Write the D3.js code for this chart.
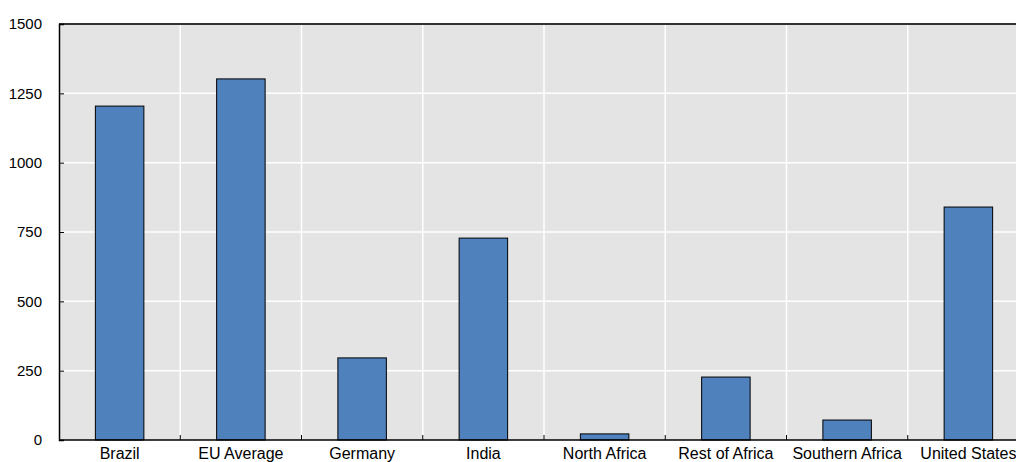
<!DOCTYPE html>
<html><head><meta charset="utf-8">
<script src="https://cdn.jsdelivr.net/npm/d3@7"></script>
<style>body{margin:0;background:#fff;overflow:hidden}svg{display:block;font-family:Arial,"Liberation Sans",sans-serif}</style>
</head><body><svg id="c" width="1016" height="462"></svg>
<script>
const categories = ["Brazil","EU Average","Germany","India","North Africa","Rest of Africa","Southern Africa","United States"];
const values = [1204, 1302, 296, 728, 22, 227, 72, 840];
const yTicks = [0, 250, 500, 750, 1000, 1250, 1500];

const svg = d3.select("#c");
const L = 59, R = 1029, T = 24, B = 440;
const x = d3.scaleBand().domain(categories).range([L, R]).paddingInner(0).paddingOuter(0);
const y = d3.scaleLinear().domain([0, 1500]).range([B, T]);

svg.append("rect").attr("x", L).attr("y", T).attr("width", R - L).attr("height", B - T).attr("fill", "#e4e4e4");
svg.selectAll(".hg").data(yTicks.filter(d => d > 0 && d < 1500)).enter().append("line")
  .attr("x1", L).attr("x2", R).attr("y1", d => y(d)).attr("y2", d => y(d))
  .attr("stroke", "#fff").attr("stroke-width", 1.5);
const bounds = categories.slice(1).map(c => x(c));
svg.selectAll(".vg").data(bounds).enter().append("line")
  .attr("x1", d => d).attr("x2", d => d).attr("y1", T).attr("y2", B)
  .attr("stroke", "#fff").attr("stroke-width", 1.5);

const bw = x.bandwidth() * 0.4;
svg.selectAll(".bar").data(values).enter().append("rect")
  .attr("x", (d, i) => x(categories[i]) + (x.bandwidth() - bw) / 2)
  .attr("y", d => y(d)).attr("width", bw).attr("height", d => B - y(d))
  .attr("fill", "#4f81bd").attr("stroke", "#000").attr("stroke-width", 1);

svg.append("line").attr("x1", L).attr("x2", R).attr("y1", T).attr("y2", T).attr("stroke", "#333").attr("stroke-width", 2);
const yAxis = d3.axisLeft(y).tickValues(yTicks).tickSize(-5).tickPadding(17).tickFormat(d3.format("d"));
const ga = svg.append("g").attr("transform", `translate(${L},0)`).call(yAxis);
ga.select(".domain").attr("stroke", "#000").attr("stroke-width", 1.5);
ga.selectAll(".tick line").attr("stroke", "#000");
ga.selectAll("text").attr("font-size", 15).attr("fill", "#000").attr("font-family", "Arial, 'Liberation Sans', sans-serif");

const xAxis = d3.axisBottom(x).tickSize(0).tickPadding(8);
const gx = svg.append("g").attr("transform", `translate(0,${B})`).call(xAxis);
gx.select(".domain").remove();
gx.append("line").attr("x1", L).attr("x2", R).attr("stroke", "#000").attr("stroke-width", 1.5);
gx.selectAll(".bt").data(bounds).enter().append("line")
  .attr("x1", d => d).attr("x2", d => d).attr("y1", 0).attr("y2", -5).attr("stroke", "#000");
gx.selectAll("text").attr("font-size", 16).attr("fill", "#000").attr("font-family", "Arial, 'Liberation Sans', sans-serif");
</script></body></html>
